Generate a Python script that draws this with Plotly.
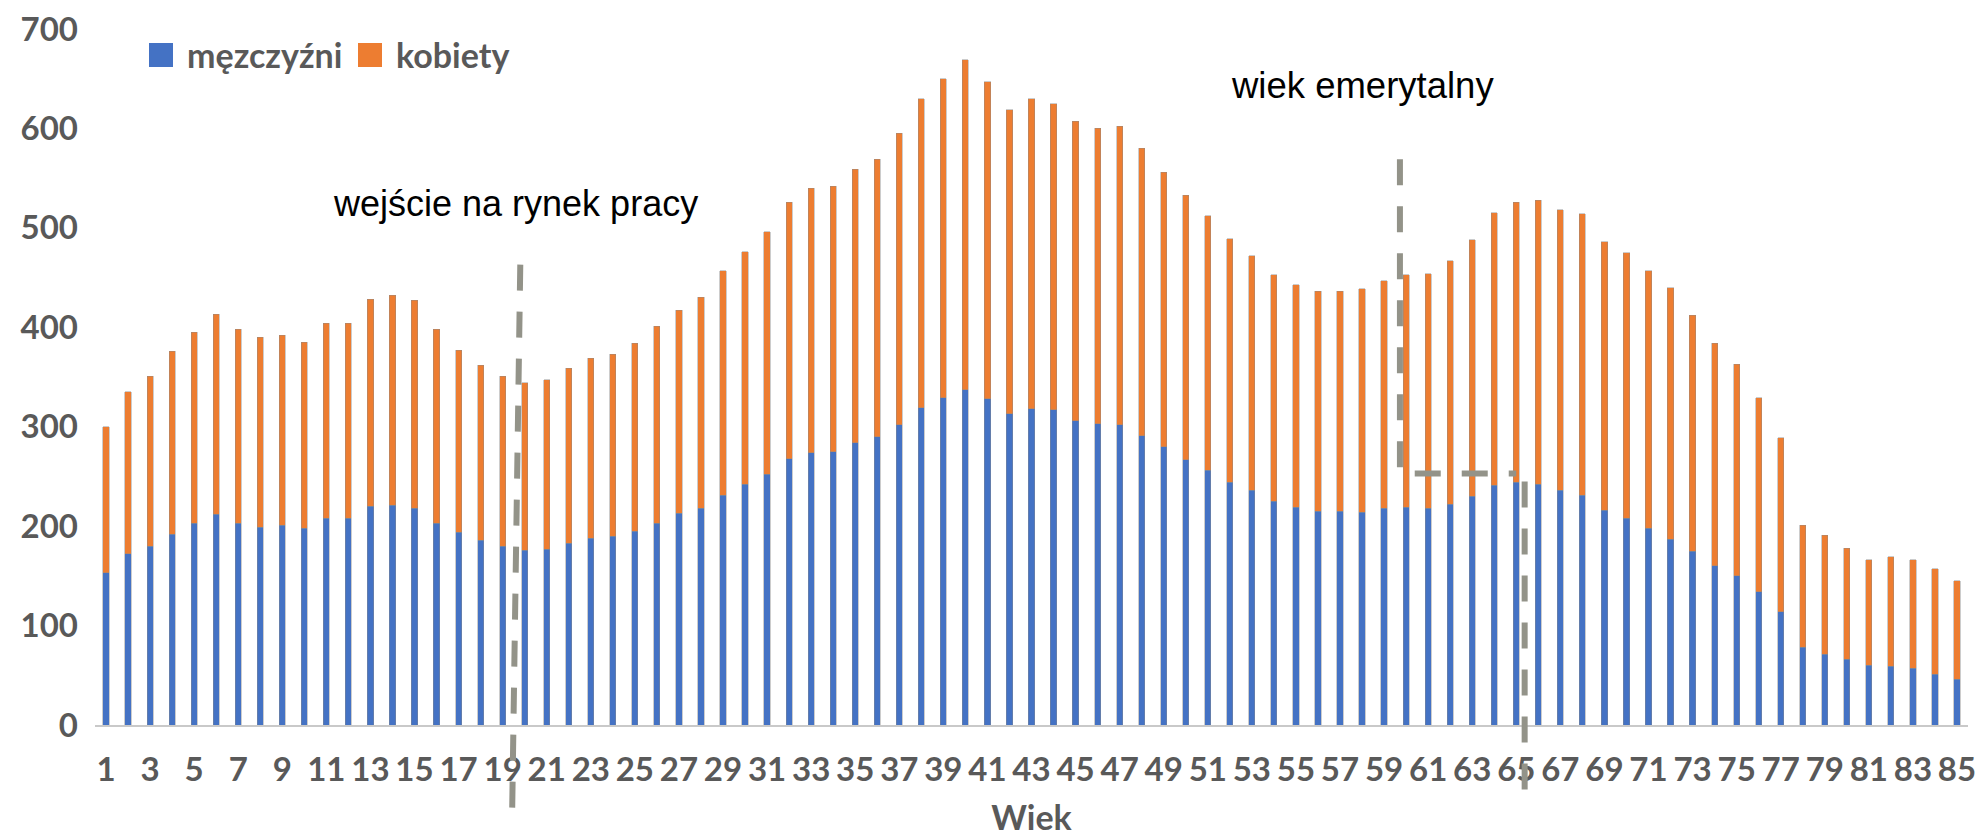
import plotly.graph_objects as go

ages = list(range(1, 86))

men = [153, 172, 180, 192, 203, 212, 203, 199, 201, 198,
       208, 208, 220, 221, 218, 203, 194, 186, 180, 176,
       177, 183, 188, 190, 195, 203, 213, 218, 231, 242,
       252, 268, 274, 275, 284, 290, 302, 319, 329, 337,
       328, 313, 318, 317, 306, 303, 302, 291, 280, 267,
       256, 244, 236, 225, 219, 215, 215, 214, 218, 219,
       218, 222, 230, 241, 244, 242, 236, 231, 216, 208,
       198, 187, 175, 160, 150, 134, 114, 78, 71, 66,
       60, 59, 57, 51, 46]

totals = [300, 335, 351, 376, 395, 413, 398, 390, 392, 385,
          404, 404, 428, 432, 427, 398, 377, 362, 351, 344,
          347, 359, 369, 373, 384, 401, 417, 430, 457, 476,
          496, 526, 540, 542, 559, 569, 595, 630, 650, 669,
          647, 619, 630, 625, 607, 600, 602, 580, 556, 533,
          512, 489, 472, 453, 443, 436, 436, 439, 447, 453,
          454, 467, 488, 515, 526, 528, 518, 514, 486, 475,
          457, 440, 412, 384, 363, 329, 289, 201, 191, 178,
          166, 169, 166, 157, 145]

women = [t - m for t, m in zip(totals, men)]

y_ticks = [0, 100, 200, 300, 400, 500, 600, 700]
x_ticks = list(range(1, 86, 2))

series_names = ["męzczyźni", "kobiety"]
series_colors = ["#4472C4", "#ED7D31"]

# page body has an 8px default margin
OFF = 8
W, H = 1987 - OFF, 837 - OFF
ML, MR, MT, MB = 87, 19, 21, 112
XR = (0.5, 85.5)
YR = (0, 700)
PW = W - ML - MR
PH = H - MT - MB

def dx(v):
    return (v - XR[0]) / (XR[1] - XR[0])

def dy(v):
    return (v - YR[0]) / (YR[1] - YR[0])

def px_x(p):
    return (p - OFF - ML) / PW

def px_y(p):
    return (H - MB - (p - OFF)) / PH

fig = go.Figure()
for name, vals, col in zip(series_names, [men, women], series_colors):
    fig.add_trace(go.Bar(
        x=ages, y=vals, name=name, width=0.28,
        marker=dict(color=col, line=dict(color="rgba(140,140,140,0.55)", width=0.8)),
        showlegend=False,
    ))

dash_col = "#939389"
dash_style = "26px,21px"
shapes = []
# wejście na rynek pracy
shapes.append(dict(type="line", xref="paper", yref="paper",
                   x0=dx(19.8), y0=dy(463), x1=dx(19.42), y1=dy(-104),
                   line=dict(color=dash_col, width=6, dash=dash_style)))
# wiek emerytalny: vertical + horizontal
shapes.append(dict(type="path", xref="paper", yref="paper",
                   path=f"M {dx(59.72)},{dy(569)} L {dx(59.72)},{dy(253)} L {dx(65.0)},{dy(253)}",
                   line=dict(color=dash_col, width=6, dash=dash_style)))
shapes.append(dict(type="line", xref="paper", yref="paper",
                   x0=dx(65.38), y0=dy(245), x1=dx(65.38), y1=dy(-68),
                   line=dict(color=dash_col, width=6, dash=dash_style)))

# custom legend squares
shapes.append(dict(type="rect", xref="paper", yref="paper",
                   x0=px_x(149), x1=px_x(173), y0=px_y(67), y1=px_y(43),
                   fillcolor=series_colors[0], line=dict(width=0)))
shapes.append(dict(type="rect", xref="paper", yref="paper",
                   x0=px_x(358), x1=px_x(382), y0=px_y(67), y1=px_y(43),
                   fillcolor=series_colors[1], line=dict(width=0)))

leg_font = dict(family="Lato", size=34, color="#595959", weight="bold")
annotations = [
    dict(text=series_names[0], xref="paper", yref="paper", x=px_x(185), y=px_y(55),
         xanchor="left", yanchor="middle", showarrow=False, font=leg_font),
    dict(text=series_names[1], xref="paper", yref="paper", x=px_x(394), y=px_y(55),
         xanchor="left", yanchor="middle", showarrow=False, font=leg_font),
    dict(text="wejście na rynek pracy", xref="paper", yref="paper", x=px_x(331), y=px_y(203),
         xanchor="left", yanchor="middle", showarrow=False,
         font=dict(family="Liberation Sans", size=36, color="#000000")),
    dict(text="wiek emerytalny", xref="paper", yref="paper", x=px_x(1229), y=px_y(85),
         xanchor="left", yanchor="middle", showarrow=False,
         font=dict(family="Liberation Sans", size=36.5, color="#000000")),
]

tick_font = dict(family="Lato", size=33, color="#595959", weight="bold")

fig.update_layout(
    width=W, height=H,
    margin=dict(l=ML, r=MR, t=MT, b=MB, autoexpand=False),
    paper_bgcolor="white", plot_bgcolor="white",
    barmode="stack",
    shapes=shapes,
    annotations=annotations,
    xaxis=dict(range=list(XR), tickmode="array", tickvals=x_ticks,
               ticktext=[str(v) for v in x_ticks], tickfont=tick_font,
               showgrid=False, zeroline=False, showline=True,
               linecolor="#c9c9c9", linewidth=2, ticks="",
               ticklabelstandoff=14, ticklabeloverflow="allow",
               title=dict(text="Wiek", font=dict(family="Lato", size=34, color="#595959", weight="bold"),
                          standoff=29)),
    yaxis=dict(range=list(YR), tickmode="array", tickvals=y_ticks,
               ticktext=[str(v) for v in y_ticks], tickfont=tick_font,
               showgrid=False, zeroline=False, showline=False, ticks="",
               ticklabelstandoff=16, ticklabeloverflow="allow"),
)

fig.write_html("out.html")
